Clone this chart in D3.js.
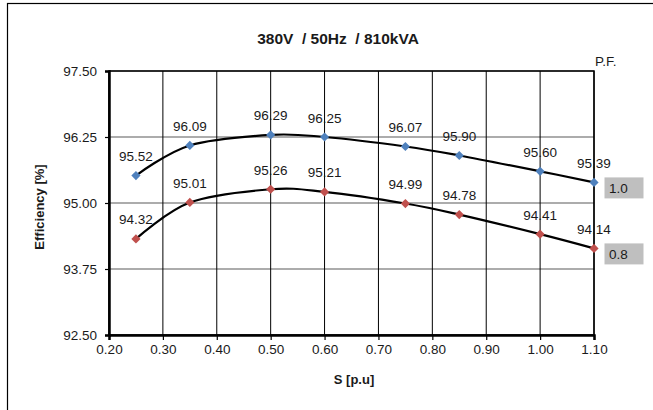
<!DOCTYPE html>
<html>
<head>
<meta charset="utf-8" />
<title>Efficiency</title>
<script src="https://cdn.jsdelivr.net/npm/d3@7"></script>
<style>
    body { margin: 0; background: #fff; }
    text { font-family: "Liberation Sans", Arial, sans-serif; fill: #1a1a1a; }
</style>
</head>
<body>
<div id="chart"></div>
<script>
    // data
    var loads = [0.25, 0.35, 0.50, 0.60, 0.75, 0.85, 1.00, 1.10];
    var effPf10 = [95.52, 96.09, 96.29, 96.25, 96.07, 95.90, 95.60, 95.39];
    var effPf08 = [94.32, 95.01, 95.26, 95.21, 94.99, 94.78, 94.41, 94.14];
    var xTicks = [0.20, 0.30, 0.40, 0.50, 0.60, 0.70, 0.80, 0.90, 1.00, 1.10];
    var yTicks = [92.50, 93.75, 95.00, 96.25, 97.50];
    var pfLabels = ["1.0", "0.8"];
    var colors = ["#4f81bd", "#c0504d"];

    var w = 653;
    var h = 410;
    // plot area edges (note: "top" is taken by window.top)
    var pLeft = 109, pRight = 594, pTop = 71, pBottom = 335;

    var svg = d3.select("#chart")
        .append("svg")
        .attr("width", w)
        .attr("height", h);

    // outer chart frame (runs off the right and bottom edge)
    svg.append("rect")
        .attr("x", 7.5)
        .attr("y", 3.5)
        .attr("width", 700)
        .attr("height", 450)
        .attr("fill", "#fff")
        .attr("stroke", "#000")
        .attr("stroke-width", 1.2);

    var x = d3.scaleLinear().domain([0.2, 1.1]).range([pLeft, pRight]);
    var y = d3.scaleLinear().domain([92.5, 97.5]).range([pBottom, pTop]);

    // gridlines
    svg.selectAll("line.hgrid")
        .data(yTicks)
        .enter()
        .append("line")
        .attr("class", "hgrid")
        .attr("x1", pLeft).attr("x2", pRight)
        .attr("y1", function (d) { return y(d); })
        .attr("y2", function (d) { return y(d); })
        .attr("stroke", "#5a5a5a")
        .attr("stroke-width", 1.2);

    svg.selectAll("line.vgrid")
        .data(xTicks)
        .enter()
        .append("line")
        .attr("class", "vgrid")
        .attr("y1", pTop).attr("y2", pBottom)
        .attr("x1", function (d) { return x(d); })
        .attr("x2", function (d) { return x(d); })
        .attr("stroke", "#000")
        .attr("stroke-width", 1);

    // plot frame
    svg.append("rect")
        .attr("x", pLeft).attr("y", pTop)
        .attr("width", pRight - pLeft).attr("height", pBottom - pTop)
        .attr("fill", "none")
        .attr("stroke", "#000")
        .attr("stroke-width", 1.5);

    // axes
    var xAxis = svg.append("g")
        .attr("transform", "translate(0," + pBottom + ")")
        .call(d3.axisBottom(x).tickValues(xTicks).tickFormat(d3.format(".2f")).tickSize(5).tickPadding(4));
    var yAxis = svg.append("g")
        .attr("transform", "translate(" + pLeft + ",0)")
        .call(d3.axisLeft(y).tickValues(yTicks).tickFormat(d3.format(".2f")).tickSize(4).tickPadding(8));

    [xAxis, yAxis].forEach(function (a) {
        a.select(".domain").attr("stroke", "#000").attr("stroke-width", 2.5);
        a.selectAll(".tick line").attr("stroke", "#000").attr("stroke-width", 1.2);
        a.selectAll(".tick text")
            .attr("font-size", "13.5px")
            .attr("font-family", "Liberation Sans, Arial, sans-serif")
            .attr("fill", "#1a1a1a");
    });

    // series
    var series = [effPf10, effPf08];
    var line = d3.line()
        .x(function (d, i) { return x(loads[i]); })
        .y(function (d) { return y(d); })
        .curve(d3.curveCardinal.tension(0));

    series.forEach(function (vals, s) {
        svg.append("path")
            .datum(vals)
            .attr("d", line)
            .attr("fill", "none")
            .attr("stroke", "#000")
            .attr("stroke-width", 2.2);

        svg.selectAll("path.m" + s)
            .data(vals)
            .enter()
            .append("path")
            .attr("class", "m" + s)
            .attr("d", "M0,-4.6L4.6,0L0,4.6L-4.6,0Z")
            .attr("transform", function (d, i) {
                return "translate(" + x(loads[i]) + "," + y(d) + ")";
            })
            .attr("fill", colors[s]);

        svg.selectAll("text.l" + s)
            .data(vals)
            .enter()
            .append("text")
            .attr("class", "l" + s)
            .attr("x", function (d, i) { return x(loads[i]); })
            .attr("y", function (d) { return y(d) - 14.5; })
            .attr("text-anchor", "middle")
            .attr("font-size", "13.5px")
            .text(function (d) { return d.toFixed(2); });

        // P.F. tag at the end of each line
        var last = vals[vals.length - 1];
        svg.append("rect")
            .attr("x", 604.5)
            .attr("y", y(last) - 5)
            .attr("width", 39)
            .attr("height", 21)
            .attr("fill", "#bfbfbf");
        svg.append("text")
            .attr("x", 609)
            .attr("y", y(last) + 10.5)
            .attr("font-size", "13.5px")
            .text(pfLabels[s]);
    });

    // titles
    svg.append("text")
        .attr("x", 338)
        .attr("y", 44)
        .attr("text-anchor", "middle")
        .attr("font-size", "15.5px")
        .attr("font-weight", "bold")
        .attr("xml:space", "preserve")
        .style("white-space", "pre")
        .text("380V  / 50Hz  / 810kVA");

    svg.append("text")
        .attr("x", 595)
        .attr("y", 66)
        .attr("font-size", "13.5px")
        .text("P.F.");

    svg.append("text")
        .attr("transform", "translate(44,207) rotate(-90)")
        .attr("text-anchor", "middle")
        .attr("font-size", "13px")
        .attr("font-weight", "bold")
        .text("Efficiency [%]");

    svg.append("text")
        .attr("x", 354)
        .attr("y", 384)
        .attr("text-anchor", "middle")
        .attr("font-size", "13px")
        .attr("font-weight", "bold")
        .text("S [p.u]");
</script>
</body>
</html>
